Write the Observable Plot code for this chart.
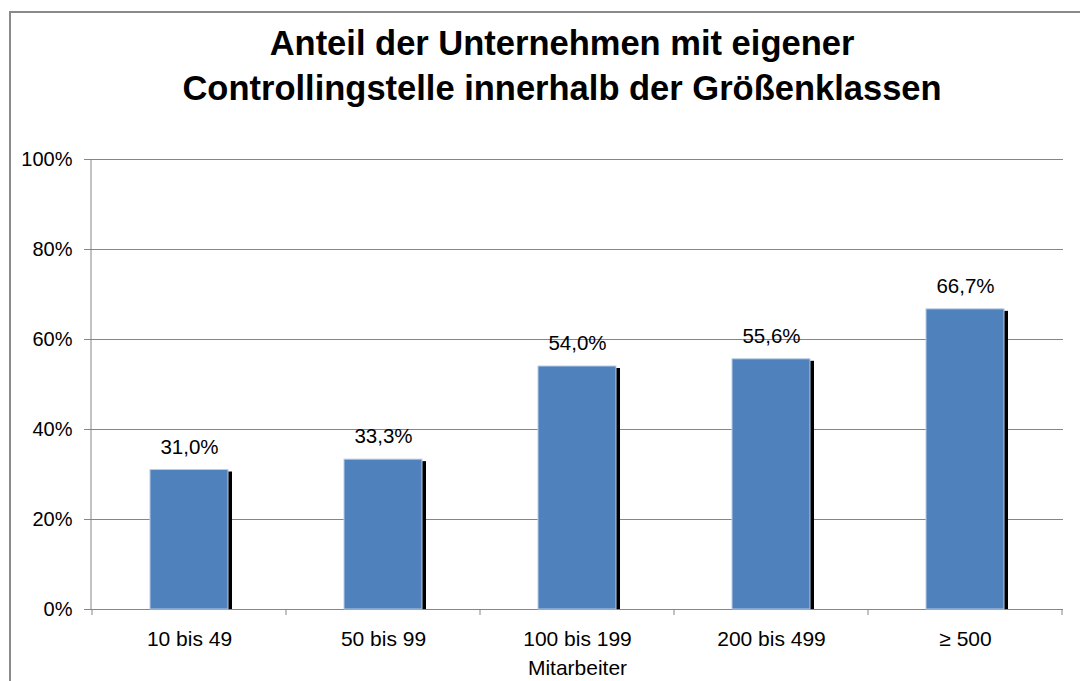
<!DOCTYPE html>
<html>
<head>
<meta charset="utf-8">
<script src="https://cdn.jsdelivr.net/npm/d3@7"></script>
<script src="https://cdn.jsdelivr.net/npm/@observablehq/plot@0.6"></script>
<style>
  html, body { margin: 0; padding: 0; background: #fff; }
  #wrap { position: relative; width: 1080px; height: 681px; overflow: hidden; font-family: "Liberation Sans", Arial, sans-serif; }
  #border { position: absolute; left: 9px; top: 11px; width: 1100px; height: 700px; border-top: 2px solid #8a8a8a; border-left: 2px solid #8a8a8a; box-sizing: border-box; }
  #title { position: relative; height: 140px; box-sizing: border-box; padding-top: 21px; margin-left: 44px; width: 1036px; text-align: center; font-weight: bold; font-size: 34.5px; line-height: 45px; color: #000; }
  #chart { position: relative; }
  #chart svg { display: block; background: transparent; }
</style>
</head>
<body>
<div id="wrap">
  <div id="border"></div>
  <div id="title">Anteil der Unternehmen mit eigener<br>Controllingstelle innerhalb der Größenklassen</div>
  <div id="chart"></div>
</div>
<script>
const categories = ["10 bis 49", "50 bis 99", "100 bis 199", "200 bis 499", "≥ 500"];
const values = [31.0, 33.3, 54.0, 55.6, 66.7];
const labels = ["31,0%", "33,3%", "54,0%", "55,6%", "66,7%"];
const yTicks = [0, 20, 40, 60, 80, 100];
const xTitle = "Mitarbeiter";

const data = categories.map((c, i) => ({cat: c, value: values[i], label: labels[i]}));

const gridColor = "#868686";

// left axis line
const yAxisLine = (index, scales, values, dims) => {
  const g = d3.create("svg:g");
  g.append("line")
    .attr("x1", dims.marginLeft).attr("x2", dims.marginLeft)
    .attr("y1", scales.y(yTicks[0])).attr("y2", scales.y(yTicks[yTicks.length - 1]))
    .attr("stroke", gridColor).attr("stroke-width", 1);
  return g.node();
};

// category boundary ticks under the x axis
const xBoundaryTicks = (index, scales, values, dims) => {
  const g = d3.create("svg:g");
  const x = scales.x;
  const step = x.step();
  const bw = x.bandwidth();
  const y0 = scales.y(0);
  const bounds = categories.map(c => x(c) - (step - bw) / 2);
  bounds.push(x(categories[categories.length - 1]) + bw + (step - bw) / 2);
  for (const b of bounds) {
    g.append("line")
      .attr("x1", b).attr("x2", b)
      .attr("y1", y0).attr("y2", y0 + 6)
      .attr("stroke", gridColor).attr("stroke-width", 1);
  }
  return g.node();
};

const plot = Plot.plot({
  width: 1080,
  height: 541,
  marginTop: 19,
  marginBottom: 72,
  marginLeft: 91,
  marginRight: 17,
  style: {fontFamily: "'Liberation Sans', Arial, sans-serif", fontSize: "20px", color: "#000", background: "transparent"},
  x: {type: "band", domain: categories, paddingInner: 0.6, paddingOuter: 0.3, label: null},
  y: {domain: [0, 100], label: null},
  marks: [
    Plot.gridY(yTicks, {stroke: gridColor, strokeOpacity: 1, strokeWidth: 1}),
    Plot.axisY(yTicks, {tickFormat: d => d + "%", tickSize: 7, tickPadding: 12, stroke: gridColor, fill: "#000", fontSize: 20, label: null}),
    Plot.axisX({tickSize: 0, tickPadding: 22, fontSize: 21, fill: "#000", label: null}),
    yAxisLine,
    xBoundaryTicks,
    Plot.barY(data, {x: "cat", y: "value", fill: "#000", dx: 4, dy: 2, insetBottom: 2}),
    Plot.barY(data, {x: "cat", y: "value", fill: "#4F81BD", stroke: "#B9CDE5", strokeWidth: 1}),
    Plot.text(data, {x: "cat", y: "value", text: "label", dy: -23, fontSize: 20.5, fill: "#000"}),
    Plot.text([xTitle], {frameAnchor: "bottom", text: d => d, dy: 65, fontSize: 21, fill: "#000"})
  ]
});
document.getElementById("chart").appendChild(plot);
</script>
</body>
</html>
